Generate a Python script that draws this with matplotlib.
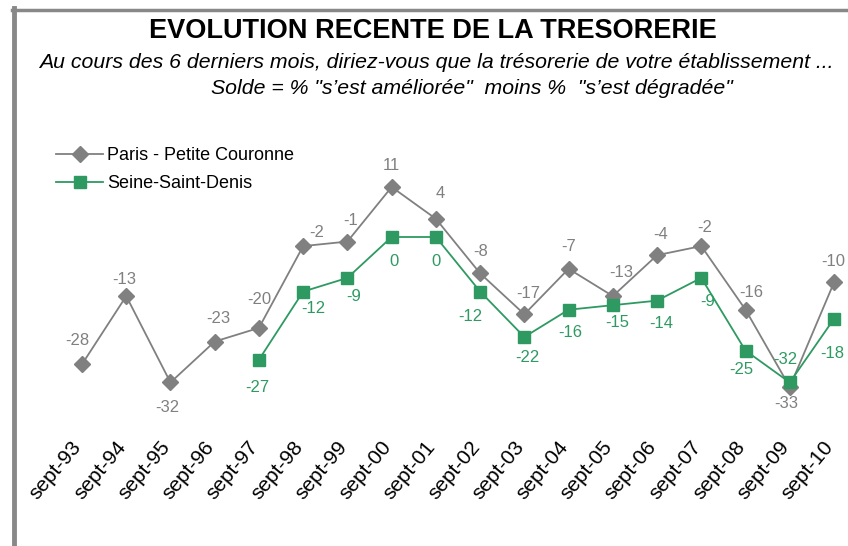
import matplotlib
matplotlib.use("Agg")
import matplotlib.pyplot as plt
from matplotlib.lines import Line2D

plt.rcParams['font.family'] = ['Liberation Sans', 'DejaVu Sans']

categories = ["sept-93", "sept-94", "sept-95", "sept-96", "sept-97", "sept-98", "sept-99",
              "sept-00", "sept-01", "sept-02", "sept-03", "sept-04", "sept-05", "sept-06",
              "sept-07", "sept-08", "sept-09", "sept-10"]
paris = [-28, -13, -32, -23, -20, -2, -1, 11, 4, -8, -17, -7, -13, -4, -2, -16, -33, -10]
ssd_start = 4
ssd = [-27, -12, -9, 0, 0, -12, -22, -16, -15, -14, -9, -25, -32, -18]

# label offsets in pixels (style only)
paris_off = [(-5, 24), (-2, 17), (-3, -25), (4, 23), (0, 28), (14, 14), (3, 21), (0, 21),
             (4, 25), (1, 22), (4, 21), (0, 22), (8, 24), (4, 21), (3, 19), (6, 17), (-4, -16), (-1, 21)]
ssd_off = [(-2, -28), (10, -17), (6, -19), (2, -25), (0, -25), (-10, -25), (3, -20), (2, -23),
           (4, -17), (4, -23), (6, -24), (-4, -19), (-4, 23), (-2, -35)]

GREY = '#808080'
GREEN = '#2e9a62'

W, H = 848, 546
fig = plt.figure(figsize=(W / 100, H / 100), dpi=100)

# axes mapping: x=0 -> 82px, x=17 -> 834px ; y=0 -> 237px, 11 -> 187px
pxu = (834 - 82) / 17
x0, x1 = -0.3, 17.3
left = 82 + x0 * pxu
right = 82 + x1 * pxu
pyu = 50 / 11
y0, y1 = -40, 15
top = 237 - y1 * pyu
bottom = 237 - y0 * pyu
ax = fig.add_axes([left / W, 1 - bottom / H, (right - left) / W, (bottom - top) / H])
ax.set_xlim(x0, x1)
ax.set_ylim(y0, y1)
ax.axis('off')

xs = list(range(len(categories)))
ax.plot(xs, paris, color=GREY, lw=1.3, marker='D', ms=8, mfc=GREY, mec=GREY, clip_on=False, zorder=3)
xs2 = xs[ssd_start:]
ax.plot(xs2, ssd, color=GREEN, lw=1.3, marker='s', ms=8, mfc=GREEN, mec=GREEN, clip_on=False, zorder=4)

for x, v, (dx, dy) in zip(xs, paris, paris_off):
    ax.annotate(f"{v}", (x, v), xytext=(dx, dy), textcoords='offset pixels',
                ha='center', va='center', fontsize=12, color=GREY)
for x, v, (dx, dy) in zip(xs2, ssd, ssd_off):
    ax.annotate(f"{v}", (x, v), xytext=(dx, dy), textcoords='offset pixels',
                ha='center', va='center', fontsize=12, color=GREEN)

# tick labels
for x, lab in zip(xs, categories):
    ax.annotate(lab, (x, y0), xytext=(-11, -19), textcoords='offset pixels',
                xycoords='data', ha='right', va='top', rotation=50,
                rotation_mode='anchor', fontsize=15, color='black', annotation_clip=False)

# title
fig.text(433 / W, 1 - 31 / H, "EVOLUTION RECENTE DE LA TRESORERIE", ha='center', va='center',
         fontsize=19.5, fontweight='bold')
fig.text(436 / W, 1 - 62 / H,
         "Au cours des 6 derniers mois, diriez-vous que la trésorerie de votre établissement ...",
         ha='center', va='center', fontsize=15.3, style='italic')
fig.text(472 / W, 1 - 88 / H, 'Solde = % "s\u2019est améliorée"  moins %  "s\u2019est dégradée"',
         ha='center', va='center', fontsize=15.3, style='italic')

# legend
handles = [Line2D([], [], color=GREY, lw=1.3, marker='D', ms=8, mfc=GREY, mec=GREY),
           Line2D([], [], color=GREEN, lw=1.3, marker='s', ms=8, mfc=GREEN, mec=GREEN)]
fig.legend(handles, ["Paris - Petite Couronne", "Seine-Saint-Denis"],
           loc='upper left', bbox_to_anchor=(40 / W, 1 - 131 / H), frameon=False,
           fontsize=13, handlelength=2.6, handletextpad=0.2, labelspacing=0.6)

# frame lines
fig.add_artist(Line2D([14 / W, 14 / W], [0, 1 - 8 / H], color='#888888', lw=3.5))
fig.add_artist(Line2D([12 / W, 1], [1 - 9.5 / H, 1 - 9.5 / H], color='#888888', lw=2.5))

fig.savefig('out.png', dpi=100)
